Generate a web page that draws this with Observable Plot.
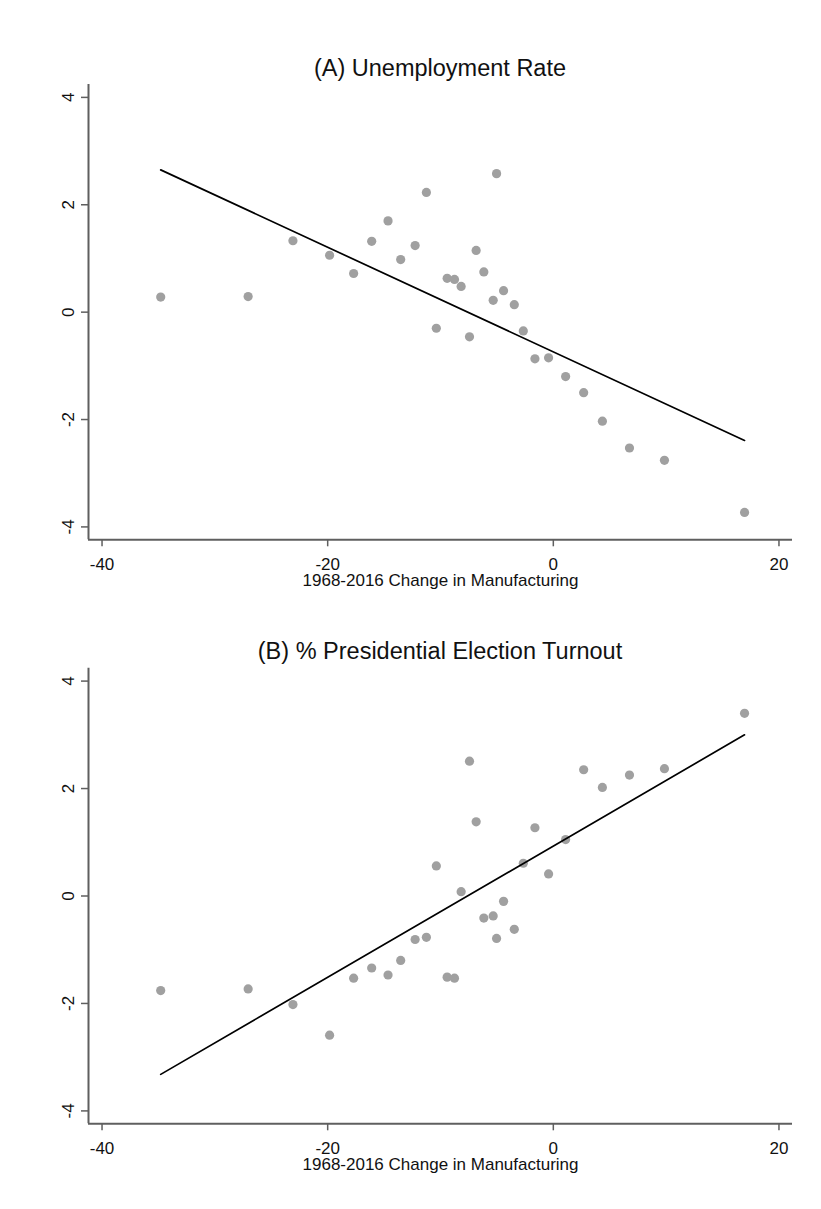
<!DOCTYPE html>
<html><head><meta charset="utf-8">
<script src="https://cdn.jsdelivr.net/npm/d3@7"></script>
<script src="https://cdn.jsdelivr.net/npm/@observablehq/plot@0.6"></script>
<style>
body{margin:0;background:#fff;font-family:"Liberation Sans",Arial,sans-serif;}
#wrap{position:relative;width:821px;height:1209px;overflow:hidden;}
.title{position:absolute;left:88px;width:704px;text-align:center;font-size:23.5px;line-height:28px;color:#111;z-index:2;white-space:nowrap;}
.panel{position:absolute;left:0;}
</style></head><body>
<div id="wrap">
  <div class="title" id="tA" style="top:54px"></div>
  <div class="panel" id="pA" style="top:0px"></div>
  <div class="title" id="tB" style="top:637px"></div>
  <div class="panel" id="pB" style="top:600px"></div>
</div>
<script>
// Data
const titleA = "(A) Unemployment Rate";
const titleB = "(B) % Presidential Election Turnout";
const xLabel = "1968-2016 Change in Manufacturing";
const xChange = [-34.8, -27.05, -23.08, -19.83, -17.70, -16.10, -14.65, -13.53, -12.25, -11.25, -10.37, -9.41, -8.76, -8.17, -7.43, -6.84, -6.16, -5.33, -5.03, -4.41, -3.46, -2.66, -1.63, -0.42, 1.09, 2.69, 4.35, 6.75, 9.85, 16.95];
const unemployment = [0.28, 0.29, 1.33, 1.06, 0.72, 1.32, 1.70, 0.98, 1.24, 2.23, -0.30, 0.63, 0.61, 0.48, -0.46, 1.15, 0.75, 0.22, 2.58, 0.40, 0.14, -0.35, -0.87, -0.85, -1.20, -1.50, -2.03, -2.53, -2.76, -3.73];
const turnout = [-1.76, -1.73, -2.02, -2.59, -1.53, -1.34, -1.47, -1.20, -0.81, -0.77, 0.56, -1.51, -1.53, 0.08, 2.51, 1.38, -0.41, -0.37, -0.79, -0.10, -0.62, 0.61, 1.27, 0.41, 1.05, 2.35, 2.02, 2.25, 2.37, 3.40];
const fitX = [-34.8, 16.95];
const fitUnemployment = [2.65, -2.39];
const fitTurnout = [-3.32, 3.00];
const xTicks = [-40, -20, 0, 20];
const yTicks = [-4, -2, 0, 2, 4];
const xDomain = [-41.2, 21.2];
const yDomain = [-4.24, 4.24];

const axisColor = "#5f5f5f";
const dotColor = "#a0a0a0";
const textColor = "#111";
const font = "'Liberation Sans', Arial, sans-serif";
const fs = 17;

function panel(yVals, fitY, height, marginTop, marginBottom) {
  const pts = xChange.map((x, i) => ({x, y: yVals[i]}));
  const fit = fitX.map((x, i) => ({x, y: fitY[i]}));
  return Plot.plot({
    width: 821, height, marginLeft: 88, marginRight: 29, marginTop, marginBottom,
    x: {domain: xDomain},
    y: {domain: yDomain},
    style: {fontFamily: font, fontSize: fs + "px", color: textColor, background: "transparent", overflow: "visible"},
    marks: [
      Plot.ruleX([xDomain[0]], {stroke: axisColor, strokeWidth: 2}),
      Plot.ruleY([yDomain[0]], {stroke: axisColor, strokeWidth: 2}),
      Plot.axisX(xTicks, {tickSize: 7, tickPadding: 11, tickFormat: d => String(d), stroke: axisColor, strokeWidth: 1.5, label: null, fontSize: fs}),
      Plot.axisY(yTicks, {tickSize: 7, tickFormat: () => "", stroke: axisColor, strokeWidth: 1.5, label: null}),
      Plot.text(yTicks, {y: d => d, frameAnchor: "left", dx: -20, rotate: -90, text: d => String(d), textAnchor: "middle", lineAnchor: "middle", fontSize: fs, fill: textColor}),
      Plot.text([xLabel], {frameAnchor: "bottom", dy: 41, text: d => d, textAnchor: "middle", lineAnchor: "middle", fontSize: fs, fill: textColor}),
      Plot.dot(pts, {x: "x", y: "y", r: 4.6, fill: dotColor, stroke: "none"}),
      Plot.line(fit, {x: "x", y: "y", stroke: "#000", strokeWidth: 1.7})
    ]
  });
}

document.getElementById("tA").textContent = titleA;
document.getElementById("tB").textContent = titleB;
document.getElementById("pA").appendChild(panel(unemployment, fitUnemployment, 600, 84, 60.7));
document.getElementById("pB").appendChild(panel(turnout, fitTurnout, 609, 67.7, 85.7));
</script>
</body></html>
